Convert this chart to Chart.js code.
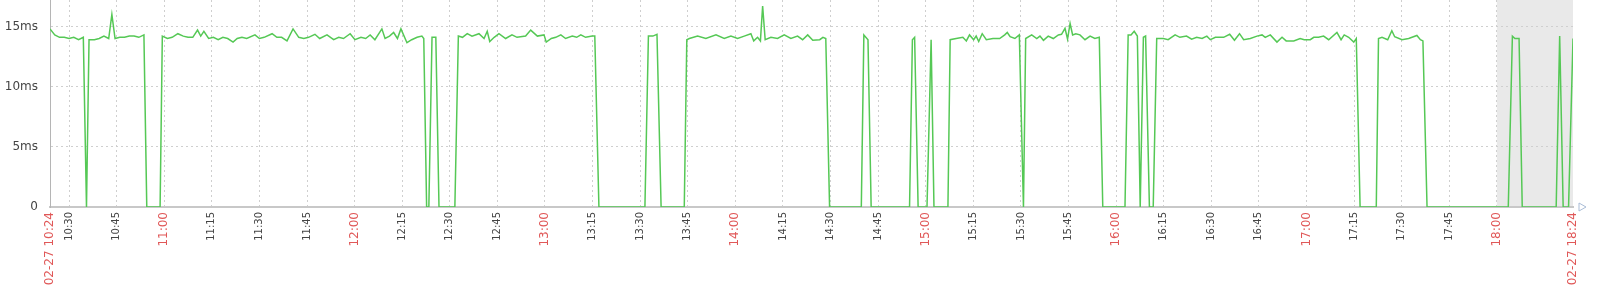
<!DOCTYPE html>
<html>
<head>
<meta charset="utf-8">
<script src="https://cdn.jsdelivr.net/npm/chart.js@4/dist/chart.umd.min.js"></script>
<style>
  html, body { margin: 0; padding: 0; background: #ffffff; }
  #wrap { width: 1601px; height: 300px; }
</style>
</head>
<body>
<div id="wrap"><canvas id="c" width="1601" height="300"></canvas></div>
<script>
// ---- data (minutes after 02-27 10:24, latency in ms) ----
const minutes = [
  0,1.5,3,4.5,6,7.5,9,10.5,11.5,12.3,14,15.5,17,18.5,19.5,20.5,22,23.5,25,26.5,28,29.6,30.5,34.7,35.4,
  37,38.5,40.3,42,43.5,45,46.5,47.5,48.5,50,51.5,53,54.5,56,57.7,59,60.5,62,64.6,66,67.5,70,71.5,73,74.7,
  76.6,78.4,80,81.5,83.5,85,87.3,89.4,91,92.5,94.6,96.1,98,99.5,100.9,102.4,104.6,105.6,107,108.3,109.5,
  110.6,112.5,114,115.7,117.2,117.8,118.7,119.4,120.4,121.6,122.6,127.6,128.7,130,131.5,133,135.2,136.8,
  137.8,138.6,140,141.5,143.6,145.6,147.2,149.9,151.5,153.6,155.7,156.4,158,159.4,161,162.5,164.6,166,
  167.3,168.8,170.9,171.7,173,187.5,188.6,190,191.3,192.6,199.9,200.7,201.5,204.1,206.7,209.9,212.5,
  214.6,216.7,218.8,220.9,221.8,223,223.9,224.6,225.4,227.2,229.3,231.4,233.5,235.6,237.2,238.8,240.4,
  242.6,243.6,244.5,245.7,255.7,256.5,257.8,258.8,270.9,271.8,272.5,273.6,276.4,277.7,278.6,283,283.7,
  285.6,287.7,288.8,289.8,291.1,291.9,292.7,293.8,295.1,297.2,299.3,300.9,301.7,302.6,304.1,305.5,306.8,
  307.5,309.4,311,312,313.1,314.6,316.2,317.8,318.8,319.9,320.7,321.5,322.3,323.3,324.6,326.2,327.8,
  329.3,330.7,331.8,338.8,339.8,340.7,341.7,342.7,343.6,344.6,345.3,346.5,347.7,348.8,350.9,352.4,354.6,
  356.1,358.2,359.8,361.4,363.1,364.6,365.7,367.3,369.9,371.8,373.3,374.9,376.2,378.3,380.4,382,383,
  384.6,386.7,388.3,389.6,392,394,395.3,397.2,398.3,399.8,401.4,403,405.6,406.9,407.9,409.3,410.9,411.7,
  412.9,418,418.7,419.8,421.6,422.9,423.8,426.1,428.2,430.8,431.9,432.7,434,459.6,460.9,461.7,463,464,
  474.7,475.8,476.9,478.6,480
];
const latencyMs = [
  14.8,14.3,14.1,14.1,14.0,14.1,13.9,14.1,0,13.9,13.9,14.0,14.2,14.0,16.0,14.0,14.1,14.1,14.2,14.2,14.1,14.3,0,0,14.2,
  14.0,14.1,14.4,14.2,14.1,14.1,14.7,14.2,14.6,14.0,14.1,13.9,14.1,14.0,13.7,14.0,14.1,14.0,14.3,14.0,14.1,14.4,14.1,14.1,13.8,
  14.8,14.1,14.0,14.1,14.35,14.0,14.3,13.9,14.1,14.0,14.4,13.9,14.1,14.0,14.3,13.9,14.8,14.0,14.2,14.5,14.0,
  14.8,13.65,13.9,14.1,14.2,14.0,0,0,14.1,14.1,0,0,14.2,14.1,14.4,14.2,14.4,14.0,
  14.6,13.75,14.1,14.4,14.0,14.3,14.1,14.2,14.7,14.2,14.3,13.7,14.0,14.1,14.3,14.0,14.2,14.1,
  14.3,14.1,14.2,14.2,0,0,14.2,14.2,14.35,0,0,13.9,14.0,14.2,14.0,14.3,14.0,
  14.2,14.0,14.2,14.4,13.8,14.1,13.8,16.7,13.9,14.1,14.0,14.3,14.0,14.2,13.9,14.3,13.85,
  13.9,14.1,14.0,0,0,14.3,13.9,0,0,13.9,14.1,0,0,13.9,0,0,13.9,
  14.0,14.1,13.8,14.3,13.9,14.2,13.75,14.4,13.9,14.0,14.0,14.3,14.5,14.15,14.0,14.3,0,
  14.0,14.3,14.0,14.2,13.85,14.2,14.0,14.3,14.35,14.85,13.95,15.25,14.3,14.4,14.3,13.9,14.2,
  14.0,14.1,0,0,14.3,14.3,14.6,14.2,0,14.1,14.2,0,0,14.0,14.0,13.9,14.3,
  14.1,14.2,13.95,14.1,14.0,14.2,13.9,14.1,14.1,14.35,13.85,14.4,13.9,14.0,14.2,14.3,14.1,
  14.3,13.7,14.1,13.8,13.8,14.0,13.9,13.9,14.1,14.1,14.2,13.9,14.5,13.9,14.3,14.1,13.7,14.0,
  0,0,14.0,14.1,13.9,14.65,14.15,13.9,14.0,14.25,13.9,13.8,0,0,14.2,14.0,14.0,0,
  0,14.2,0,0,14.0
];
const xTickLabels = [
  "02-27 10:24","10:30","10:45","11:00","11:15","11:30","11:45","12:00","12:15","12:30","12:45",
  "13:00","13:15","13:30","13:45","14:00","14:15","14:30","14:45","15:00","15:15","15:30","15:45",
  "16:00","16:15","16:30","16:45","17:00","17:15","17:30","17:45","18:00","02-27 18:24"
];
const yTickValues = [0, 5, 10, 15];
const yTickLabels = ["0", "5ms", "10ms", "15ms"];
const shadedRange = ["18:00", "18:24"];
const startClock = "10:24";

// ---- helpers ----
function clockToMin(s) {
  const t = s.split(" ").pop().split(":");
  const st = startClock.split(":");
  return (parseInt(t[0]) * 60 + parseInt(t[1])) - (parseInt(st[0]) * 60 + parseInt(st[1]));
}
const xTickValues = xTickLabels.map(clockToMin);
const isRed = xTickLabels.map(l => l.indexOf("02-27") === 0 || /:00$/.test(l));
const points = minutes.map((m, i) => ({ x: m, y: latencyMs[i] }));
const lastIdx = xTickLabels.length - 1;

const RED = "#e05858";
const DARK = "#444444";
const GRID = "#cfcfcf";

const shadePlugin = {
  id: "shade",
  beforeDraw(chart) {
    const { ctx, chartArea } = chart;
    const xs = chart.scales.x;
    const x1 = xs.getPixelForValue(clockToMin(shadedRange[0]));
    const x2 = xs.getPixelForValue(clockToMin(shadedRange[1]));
    ctx.save();
    ctx.fillStyle = "#e9e9e9";
    ctx.fillRect(x1, chartArea.top, x2 - x1, chartArea.bottom - chartArea.top);
    ctx.restore();
  },
  afterDraw(chart) {
    const { ctx, chartArea } = chart;
    const x = chartArea.right, y = chartArea.bottom;
    ctx.save();
    ctx.strokeStyle = "#a9bcd6";
    ctx.lineWidth = 1;
    ctx.beginPath();
    ctx.moveTo(x + 6, y - 4);
    ctx.lineTo(x + 13, y);
    ctx.lineTo(x + 6, y + 4);
    ctx.closePath();
    ctx.stroke();
    ctx.restore();
  }
};

function zeroPad(scale) {
  scale.paddingTop = 0; scale.paddingBottom = 0;
  scale.paddingLeft = 0; scale.paddingRight = 0;
}

new Chart(document.getElementById("c"), {
  type: "line",
  data: {
    datasets: [{
      data: points,
      borderColor: "#55c855",
      borderWidth: 1.5,
      pointRadius: 0,
      tension: 0,
      fill: false
    }]
  },
  options: {
    responsive: false,
    animation: false,
    devicePixelRatio: 1,
    layout: { padding: { top: 0, right: 28, left: 0, bottom: 0 } },
    plugins: { legend: { display: false }, tooltip: { enabled: false } },
    scales: {
      x: {
        type: "linear",
        min: 0,
        max: 480,
        afterBuildTicks(scale) { scale.ticks = xTickValues.map(v => ({ value: v })); },
        afterFit(scale) { scale.height = 93; zeroPad(scale); },
        grid: {
          drawTicks: false,
          color: (c) => (c.index === 0 || c.index === lastIdx) ? "rgba(0,0,0,0)" : GRID,
          lineWidth: 1
        },
        border: { display: true, color: "#c8c8c8", width: 2, dash: [2, 3] },
        ticks: {
          autoSkip: false,
          minRotation: 90,
          maxRotation: 90,
          padding: 5,
          callback: (v, i) => xTickLabels[i],
          color: (c) => isRed[c.index] ? RED : DARK,
          font: (c) => isRed[c.index]
            ? { family: "DejaVu Sans", size: 12 }
            : { family: "DejaVu Sans", size: 10 }
        }
      },
      y: {
        min: 0,
        max: 17.2,
        afterBuildTicks(scale) { scale.ticks = yTickValues.map(v => ({ value: v })); },
        afterFit(scale) { scale.width = 50; zeroPad(scale); },
        grid: {
          drawTicks: false,
          color: (c) => c.index === 0 ? "rgba(0,0,0,0)" : GRID,
          lineWidth: 1
        },
        border: { display: true, color: "#b5b5b5", width: 1, dash: [2, 3] },
        ticks: {
          padding: 12,
          callback: (v, i) => yTickLabels[i],
          color: DARK,
          font: { family: "DejaVu Sans", size: 12 }
        }
      }
    }
  },
  plugins: [shadePlugin]
});
</script>
</body>
</html>
